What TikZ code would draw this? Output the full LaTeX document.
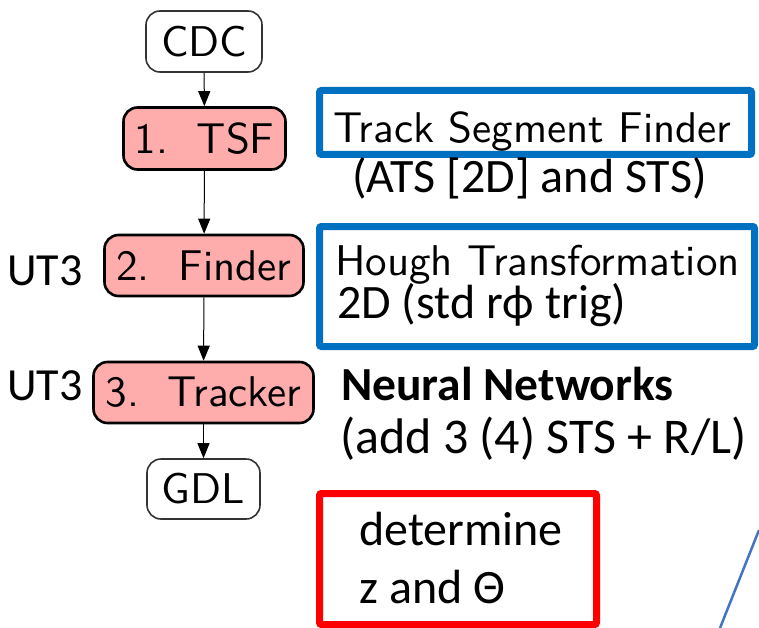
\documentclass[tikz,border=0pt]{standalone}
\usepackage{fontspec}
\newfontfamily\calib{Carlito}
\newfontfamily\lmsten{lmsans10-regular.otf}
\usetikzlibrary{arrows.meta}
\definecolor{pinkfill}{RGB}{255,172,172}
\definecolor{boxblue}{RGB}{0,112,192}
\definecolor{lineblue}{RGB}{68,114,196}
\begin{document}
\begin{tikzpicture}[x=1pt,y=-1pt,
  flow/.style={draw=black!80, line width=1.6pt, rounded corners=14pt,
    font=\fontsize{43}{50}\selectfont\lmsten, inner sep=0pt, minimum height=61pt, text=black},
  stage/.style={flow, fill=pinkfill, draw=black, line width=2.6pt},
  arr/.style={-{Triangle[length=15pt,width=12pt]}, line width=1pt, black},
  frame/.style={line width=7pt, rounded corners=2pt},
  lm/.style={anchor=base west, inner sep=0pt, font=\fontsize{43}{50}\selectfont\lmsten},
  cal/.style={anchor=base west, inner sep=0pt, font=\fontsize{48}{56}\selectfont\calib},
  calb/.style={cal, font=\fontsize{47.5}{56}\selectfont\calib\bfseries}]
\useasboundingbox (0,0) rectangle (759,628);

% flow nodes
\node[flow, minimum width=116pt] (cdc) at (204,41.5) {CDC};
\node[stage, minimum width=162pt, minimum height=62pt] (tsf) at (204.5,138.5) {1.\ \ TSF};
\node[stage, minimum width=199pt] (finder) at (204,265.5) {2.\ \ Finder};
\node[stage, minimum width=220pt] (tracker) at (203.5,392.5) {3.\ \ Tracker};
\node[flow, minimum width=113pt, minimum height=60pt] (gdl) at (203.5,489) {GDL};

\draw[arr] (cdc) -- (tsf);
\draw[arr] (tsf) -- (finder);
\draw[arr] (finder) -- (tracker);
\draw[arr] (tracker) -- (gdl);

% UT3 labels
\node[cal, font=\fontsize{46}{54}\selectfont\calib] (ut3a) at (7,285) {UT3};
\node[cal, font=\fontsize{46}{54}\selectfont\calib] (ut3b) at (7,400) {UT3};

% frames
\draw[frame, boxblue] (319.5,90.5) rectangle (751.5,154.5);
\draw[frame, boxblue] (319.5,226.5) rectangle (754.5,346.5);
\draw[frame, red] (319.5,493.5) rectangle (596.5,624.5);

% texts
\node[lm] (tsfd) at (333,143) {Track Segment Finder};
\node[cal] (ats) at (352,193) {(ATS [2D] and STS)};
\node[lm] (hough) at (335,275) {Hough Transformation};
\node[cal] (std) at (337,318) {2D (std rϕ trig)};
\node[calb] (nn) at (341,400) {Neural Networks};
\node[cal, font=\fontsize{50}{58}\selectfont\calib] (add) at (340,453) {(add 3 (4) STS + R/L)};
\node[cal] (det) at (359,545) {determine};
\node[cal] (zth) at (359,603) {z and Θ};

% partial slanted line
\coordinate (la) at (720,628);
\coordinate (lb) at (759,530);
\draw[lineblue, line width=2.5pt] (la) -- (lb);
\end{tikzpicture}
\end{document}
